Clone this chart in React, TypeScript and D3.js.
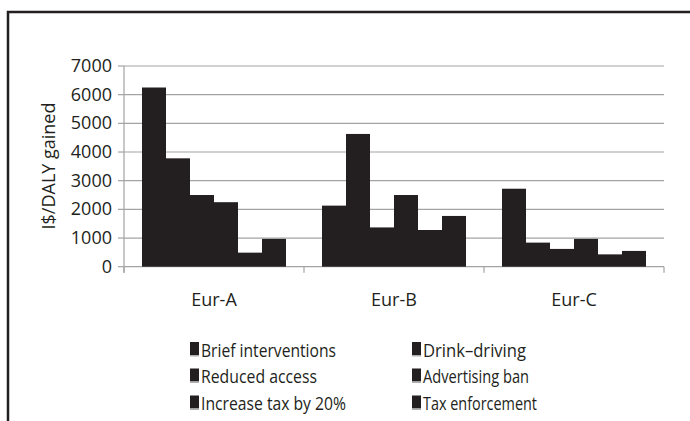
import React from "react";
import * as d3 from "d3";

const categories = ["Eur-A", "Eur-B", "Eur-C"];
const seriesNames = [
  "Brief interventions",
  "Drink–driving",
  "Reduced access",
  "Advertising ban",
  "Increase tax by 20%",
  "Tax enforcement",
];
const briefInterventions = [6250, 2130, 2720];
const drinkDriving = [3780, 4630, 840];
const reducedAccess = [2500, 1370, 620];
const advertisingBan = [2250, 2500, 970];
const increaseTax = [490, 1280, 430];
const taxEnforcement = [970, 1770, 550];
const yTicks = [0, 1000, 2000, 3000, 4000, 5000, 6000, 7000];

const seriesValues = [
  briefInterventions,
  drinkDriving,
  reducedAccess,
  advertisingBan,
  increaseTax,
  taxEnforcement,
];

const legendWidths = [135, 103, 116, 106, 145, 114];

const FONT = "'Liberation Sans Narrow', 'Open Sans', 'Liberation Sans', sans-serif";
const BAR = "#231f20";
const GRID = "#a3a3a3";

export default function App() {
  const left = 124;
  const right = 664;
  const y = d3.scaleLinear().domain([0, 7000]).range([266.7, 66]);
  const x0 = d3.scaleBand().domain(categories).range([left, right]).paddingInner(0).paddingOuter(0);
  const bw = x0.bandwidth();
  const x1 = d3
    .scaleBand()
    .domain(seriesNames)
    .range([bw * 0.1, bw * 0.9])
    .padding(0);

  const legendCols = [190, 412];
  const legendRows = [356.5, 383, 410];

  return (
    <svg
      width={690}
      height={421}
      style={{ position: "absolute", left: 0, top: 0, background: "#fff" }}
      fontFamily={FONT}
    >
      <rect x={0} y={0} width={690} height={421} fill="#fff" />
      <path d="M8,421 V12 H690" fill="none" stroke={BAR} strokeWidth={2.5} />

      {/* gridlines */}
      {yTicks.map((t) => (
        <line key={"g" + t} x1={left} x2={right} y1={y(t)} y2={y(t)} stroke={GRID} strokeWidth={1.2} />
      ))}
      {/* y axis */}
      <line x1={left} x2={left} y1={y(7000)} y2={y(0) + 6} stroke={GRID} strokeWidth={1.2} />
      {yTicks.map((t) => (
        <line key={"t" + t} x1={left - 6} x2={left} y1={y(t)} y2={y(t)} stroke={GRID} strokeWidth={1.2} />
      ))}
      {yTicks.map((t) => (
        <text key={"l" + t} x={112} y={y(t) + 6} textAnchor="end" fontSize={18} fill={BAR}>
          {t}
        </text>
      ))}
      {/* category ticks */}
      {[...categories.map((c) => x0(c) as number), right].map((v, i) => (
        <line key={"ct" + i} x1={v} x2={v} y1={y(0)} y2={y(0) + 6} stroke={GRID} strokeWidth={1.2} />
      ))}

      {/* bars */}
      {categories.map((c, ci) => (
        <g key={c} transform={`translate(${x0(c)},0)`}>
          {seriesNames.map((s, si) => {
            const v = seriesValues[si][ci];
            return (
              <rect
                key={s}
                x={x1(s)}
                y={y(v)}
                width={x1.bandwidth()}
                height={y(0) - y(v)}
                fill={BAR}
              />
            );
          })}
        </g>
      ))}

      {/* category labels */}
      {categories.map((c) => (
        <text key={"cl" + c} x={(x0(c) as number) + bw / 2} y={306} textAnchor="middle" fontSize={18} fill={BAR}>
          {c}
        </text>
      ))}

      {/* y label */}
      <text
        transform={`translate(55,166) rotate(-90)`}
        textAnchor="middle"
        fontSize={18}
        fill={BAR}
      >
        I$/DALY gained
      </text>

      {/* legend */}
      {seriesNames.map((s, i) => {
        const col = i % 2;
        const row = Math.floor(i / 2);
        const mx = legendCols[col];
        const by = legendRows[row];
        return (
          <g key={"lg" + s}>
            <rect x={mx} y={by - 14.5} width={9} height={13} fill={BAR} />
            <rect x={mx} y={by - 1.5} width={9} height={1.5} fill="#b0b0b0" />
            <text
              x={mx + 11}
              y={by}
              fontSize={18}
              fill={BAR}
              textLength={legendWidths[i]}
              lengthAdjust="spacingAndGlyphs"
            >
              {s}
            </text>
          </g>
        );
      })}
    </svg>
  );
}
